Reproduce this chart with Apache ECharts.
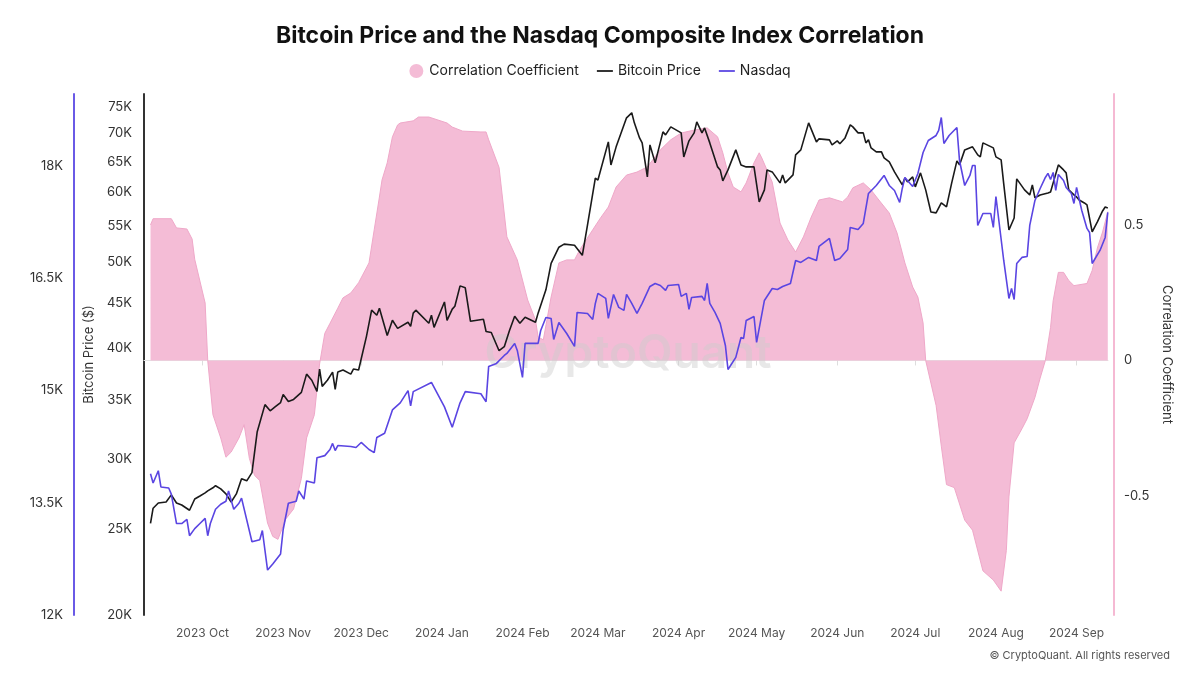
<!DOCTYPE html>
<html>
<head>
<meta charset="utf-8">
<script src="https://cdn.jsdelivr.net/npm/echarts@6/dist/echarts.min.js"></script>
<style>
html,body{margin:0;padding:0;background:#fff;}
#chart{width:1200px;height:675px;}
</style>
</head>
<body>
<div id="chart"></div>
<script>
// ---------------- data ----------------
const btcDates = ['2023-09-11','2023-09-12','2023-09-14','2023-09-17','2023-09-19','2023-09-21','2023-09-23','2023-09-26','2023-09-28','2023-09-30',
'2023-10-02','2023-10-03','2023-10-05','2023-10-06','2023-10-08','2023-10-10','2023-10-12','2023-10-14','2023-10-16','2023-10-18','2023-10-20','2023-10-22','2023-10-25','2023-10-27','2023-10-29','2023-10-31',
'2023-11-01','2023-11-03','2023-11-05','2023-11-08','2023-11-10','2023-11-12','2023-11-14','2023-11-15','2023-11-16','2023-11-18','2023-11-20','2023-11-21','2023-11-22','2023-11-24','2023-11-27','2023-11-28','2023-11-30',
'2023-12-03','2023-12-05','2023-12-07','2023-12-08','2023-12-11','2023-12-13','2023-12-15','2023-12-19','2023-12-20','2023-12-21','2023-12-22','2023-12-27','2023-12-28','2023-12-29',
'2024-01-02','2024-01-03','2024-01-05','2024-01-06','2024-01-08','2024-01-10','2024-01-12','2024-01-17','2024-01-18','2024-01-20','2024-01-23','2024-01-25','2024-01-27','2024-01-29','2024-01-31',
'2024-02-02','2024-02-06','2024-02-07','2024-02-10','2024-02-12','2024-02-15','2024-02-17','2024-02-21','2024-02-24','2024-02-26','2024-02-29',
'2024-03-01','2024-03-05','2024-03-06','2024-03-08','2024-03-12','2024-03-14','2024-03-15','2024-03-17','2024-03-18','2024-03-20','2024-03-21','2024-03-23','2024-03-26','2024-03-27','2024-03-29',
'2024-04-02','2024-04-03','2024-04-05','2024-04-07','2024-04-08','2024-04-10','2024-04-11','2024-04-13','2024-04-16','2024-04-17','2024-04-18','2024-04-20','2024-04-23','2024-04-25','2024-04-27','2024-04-30',
'2024-05-02','2024-05-04','2024-05-05','2024-05-07','2024-05-10','2024-05-11','2024-05-12','2024-05-15','2024-05-16','2024-05-18','2024-05-21','2024-05-24','2024-05-25','2024-05-29','2024-05-30',
'2024-06-01','2024-06-02','2024-06-04','2024-06-06','2024-06-07','2024-06-09','2024-06-11','2024-06-12','2024-06-13','2024-06-14','2024-06-16','2024-06-18','2024-06-19','2024-06-21','2024-06-23','2024-06-26','2024-06-27','2024-06-28','2024-06-30',
'2024-07-01','2024-07-03','2024-07-05','2024-07-07','2024-07-09','2024-07-11','2024-07-13','2024-07-15','2024-07-17','2024-07-18','2024-07-20','2024-07-23','2024-07-25','2024-07-26','2024-07-27','2024-07-31',
'2024-08-01','2024-08-03','2024-08-04','2024-08-06','2024-08-08','2024-08-09','2024-08-12','2024-08-14','2024-08-15','2024-08-16','2024-08-18','2024-08-21','2024-08-22','2024-08-23','2024-08-25','2024-08-27','2024-08-28','2024-08-29','2024-08-31',
'2024-09-01','2024-09-02','2024-09-04','2024-09-05','2024-09-07','2024-09-09','2024-09-11','2024-09-12','2024-09-13'];
const btcPrice = [25380,26400,26760,26830,27330,26760,26620,26260,27040,27250,
27470,27620,27840,27990,27760,27400,26830,27400,28500,28350,28960,32180,34560,34010,34380,34750,
35490,34840,35030,35680,37410,36820,35770,37910,36240,36820,37610,35960,37610,37810,37410,37910,37810,
41250,44180,43600,44410,41370,43030,42140,42810,42360,43840,44180,42700,43600,42250,
45130,43030,44300,44640,47060,46820,42920,43140,41800,41690,39760,40180,41910,43480,42700,
43370,42810,43840,46580,49890,52040,52450,52310,50950,55150,62280,
61960,68430,64450,67550,72840,73800,71900,69140,68250,62470,67900,64790,70230,69690,71150,
70050,65810,68610,70050,72090,70050,70960,68250,64120,63620,61830,63620,67020,64450,64120,64120,
58540,60400,63620,63290,61510,62800,61510,62800,66160,67020,71900,68430,68970,68790,67900,
68610,68080,69140,71520,71150,70050,70050,68250,68790,67370,66670,66670,65640,64960,63290,61190,62310,61670,62470,
60870,63130,60400,57030,56890,58380,57780,61510,65130,64450,67020,67550,66160,65810,68250,67370,
65810,65300,61350,54420,56150,62150,60400,59610,61190,59150,59610,59920,60080,61510,64450,63620,63130,60400,59610,
59300,58840,58380,58080,54140,55570,57180,57780,57630];

const nasdaqDates = ['2023-09-11','2023-09-12','2023-09-14','2023-09-15','2023-09-18','2023-09-19','2023-09-21','2023-09-23','2023-09-25','2023-09-26','2023-09-28','2023-09-30',
'2023-10-02','2023-10-03','2023-10-04','2023-10-06','2023-10-08','2023-10-10','2023-10-11','2023-10-13','2023-10-15','2023-10-16','2023-10-20','2023-10-23','2023-10-24','2023-10-26','2023-10-28','2023-10-31',
'2023-11-01','2023-11-03','2023-11-06','2023-11-07','2023-11-09','2023-11-10','2023-11-13','2023-11-14','2023-11-17','2023-11-19','2023-11-20','2023-11-21','2023-11-22','2023-11-27','2023-11-29',
'2023-12-01','2023-12-04','2023-12-06','2023-12-07','2023-12-10','2023-12-13','2023-12-16','2023-12-19','2023-12-20','2023-12-21','2023-12-28',
'2024-01-02','2024-01-05','2024-01-08','2024-01-10','2024-01-16','2024-01-18','2024-01-19','2024-01-22','2024-01-25','2024-01-26','2024-01-29','2024-01-30',
'2024-02-01','2024-02-02','2024-02-07','2024-02-08','2024-02-10','2024-02-12','2024-02-13','2024-02-15','2024-02-18','2024-02-21','2024-02-22','2024-02-26','2024-02-28','2024-02-29',
'2024-03-01','2024-03-04','2024-03-05','2024-03-07','2024-03-09','2024-03-11','2024-03-12','2024-03-14','2024-03-16','2024-03-18','2024-03-21','2024-03-23','2024-03-25','2024-03-27','2024-03-28',
'2024-04-01','2024-04-02','2024-04-04','2024-04-05','2024-04-06','2024-04-10','2024-04-11','2024-04-12','2024-04-13','2024-04-15','2024-04-17','2024-04-19','2024-04-20','2024-04-23','2024-04-25','2024-04-26','2024-04-27','2024-04-30',
'2024-05-01','2024-05-04','2024-05-07','2024-05-09','2024-05-11','2024-05-14','2024-05-16','2024-05-18','2024-05-21','2024-05-24','2024-05-25','2024-05-29','2024-05-31',
'2024-06-02','2024-06-05','2024-06-06','2024-06-09','2024-06-11','2024-06-13','2024-06-16','2024-06-19','2024-06-21','2024-06-23','2024-06-25','2024-06-26','2024-06-27','2024-06-30',
'2024-07-02','2024-07-04','2024-07-06','2024-07-09','2024-07-10','2024-07-11','2024-07-12','2024-07-14','2024-07-17','2024-07-18','2024-07-20','2024-07-22','2024-07-23','2024-07-24','2024-07-25','2024-07-27','2024-07-30','2024-07-31',
'2024-08-01','2024-08-04','2024-08-06','2024-08-07','2024-08-08','2024-08-09','2024-08-11','2024-08-13','2024-08-14','2024-08-16','2024-08-18','2024-08-20','2024-08-21','2024-08-22','2024-08-23','2024-08-24','2024-08-25','2024-08-27','2024-08-28','2024-08-30','2024-08-31',
'2024-09-01','2024-09-03','2024-09-05','2024-09-06','2024-09-07','2024-09-10','2024-09-12','2024-09-13'];
const nasdaqValue = [13886,13764,13927,13711,13696,13615,13222,13222,13277,13059,13154,13222,
13290,13059,13222,13412,13480,13520,13656,13412,13493,13561,12979,13006,13129,12600,12681,12816,
13142,13493,13520,13656,13548,13791,13764,14102,14129,14211,14292,14197,14264,14251,14237,
14305,14211,14169,14372,14428,14740,14834,14997,14793,14984,15107,
14780,14508,14834,14984,14956,14848,15321,15361,15467,15494,15628,15534,
15174,15628,15628,15801,15975,15962,15681,15908,15761,15588,16042,16028,15948,16162,
16296,16229,15962,16282,16109,16069,16282,16162,16028,16162,16389,16429,16402,16336,16402,
16416,16256,16296,16082,16242,16256,16202,16429,16162,16042,15895,15601,15280,15441,15708,15695,15935,15988,
15641,16202,16362,16349,16389,16429,16736,16710,16777,16736,16923,17030,16736,
16763,16883,17177,17150,17231,17631,17738,17872,17738,17671,17511,17698,17845,17725,
17899,18179,18339,18406,18473,18646,18299,18406,18513,18072,17738,17872,18005,18005,17204,17364,17364,17177,
17591,16736,16229,16362,16215,16696,16777,16790,17204,17538,17698,17845,17899,17818,17912,17671,17885,17805,17711,17631,17498,
17711,17404,17164,17110,16696,16870,17044,17378];

const corrDates = ['2023-09-11','2023-09-12','2023-09-19','2023-09-21','2023-09-25','2023-09-27','2023-09-28',
'2023-10-02','2023-10-03','2023-10-05','2023-10-08','2023-10-10','2023-10-12','2023-10-15','2023-10-17','2023-10-19','2023-10-21','2023-10-23','2023-10-26','2023-10-28','2023-10-30',
'2023-11-02','2023-11-05','2023-11-08','2023-11-10','2023-11-13','2023-11-15','2023-11-17','2023-11-19','2023-11-22','2023-11-24','2023-11-27','2023-11-30',
'2023-12-04','2023-12-06','2023-12-08','2023-12-09','2023-12-11','2023-12-13','2023-12-15','2023-12-16','2023-12-21','2023-12-23','2023-12-27',
'2024-01-03','2024-01-05','2024-01-09','2024-01-16','2024-01-18','2024-01-19','2024-01-23','2024-01-26','2024-01-30',
'2024-02-03','2024-02-06','2024-02-07','2024-02-09','2024-02-12','2024-02-15','2024-02-18','2024-02-21','2024-02-23','2024-02-28',
'2024-03-02','2024-03-05','2024-03-08','2024-03-12','2024-03-16','2024-03-20','2024-03-25','2024-03-29',
'2024-04-02','2024-04-07','2024-04-12','2024-04-16','2024-04-18','2024-04-20','2024-04-22','2024-04-25','2024-04-27','2024-04-30',
'2024-05-02','2024-05-03','2024-05-07','2024-05-10','2024-05-13','2024-05-16','2024-05-19','2024-05-22','2024-05-25','2024-05-29',
'2024-06-03','2024-06-05','2024-06-07','2024-06-11','2024-06-14','2024-06-17','2024-06-21','2024-06-24','2024-06-27','2024-06-30',
'2024-07-02','2024-07-04','2024-07-05','2024-07-09','2024-07-11','2024-07-13','2024-07-16','2024-07-20','2024-07-23','2024-07-27','2024-07-31',
'2024-08-03','2024-08-05','2024-08-06','2024-08-08','2024-08-11','2024-08-13','2024-08-16','2024-08-18','2024-08-20','2024-08-22','2024-08-23','2024-08-25','2024-08-27','2024-08-29','2024-08-31',
'2024-09-05','2024-09-07','2024-09-09','2024-09-11','2024-09-13'];
const corrValue = [0.500,0.523,0.523,0.489,0.485,0.448,0.373,
0.212,0.000,-0.200,-0.286,-0.357,-0.338,-0.286,-0.237,-0.361,-0.424,-0.443,-0.600,-0.649,-0.660,
-0.585,-0.548,-0.435,-0.286,-0.200,-0.013,0.100,0.137,0.193,0.231,0.249,0.287,
0.360,0.482,0.603,0.666,0.729,0.825,0.869,0.876,0.884,0.898,0.898,
0.876,0.861,0.846,0.843,0.843,0.814,0.712,0.456,0.371,
0.223,0.149,0.087,0.076,0.234,0.360,0.371,0.371,0.408,0.482,
0.526,0.566,0.640,0.684,0.695,0.714,0.777,0.814,
0.839,0.850,0.858,0.825,0.766,0.692,0.640,0.622,0.655,0.729,
0.766,0.747,0.658,0.507,0.445,0.400,0.456,0.529,0.592,0.600,
0.585,0.603,0.637,0.655,0.629,0.592,0.544,0.470,0.360,0.271,
0.234,0.138,0.000,-0.166,-0.316,-0.458,-0.469,-0.589,-0.626,-0.776,-0.810,
-0.851,-0.701,-0.503,-0.304,-0.252,-0.215,-0.136,-0.065,0.000,0.122,0.220,0.325,0.325,0.295,0.276,
0.284,0.332,0.415,0.474,0.549];

// tick labels
const monthTicks = ['2023-10-01','2023-11-01','2023-12-01','2024-01-01','2024-02-01','2024-03-01','2024-04-01','2024-05-01','2024-06-01','2024-07-01','2024-08-01','2024-09-01'];
const monthNames = ['Jan','Feb','Mar','Apr','May','Jun','Jul','Aug','Sep','Oct','Nov','Dec'];
const btcTicks = [20000,25000,30000,35000,40000,45000,50000,55000,60000,65000,70000,75000];
const nasdaqTicks = [12000,13500,15000,16500,18000];
const corrTicks = [-0.5,0,0.5];

// ---------------- helpers ----------------
function ts(s){ const p = s.split(' '); const d = p[0].split('-').map(Number); let h = 0; if (p[1]) h = Number(p[1].split(':')[0]); return new Date(d[0], d[1]-1, d[2], h).getTime(); }
function pairs(dates, vals){ return dates.map((d,i)=>[ts(d), vals[i]]); }
const FONT = "Inter, 'Noto Sans', 'Liberation Sans', sans-serif";
const kFmt = v => (Math.round(v/100)/10) + 'K';
const LINE_ICON = 'path://M0,0H18V2H0Z';

const chart = echarts.init(document.getElementById('chart'), null, {renderer:'canvas'});
const option = {
  animation: false,
  backgroundColor: '#ffffff',
  textStyle: { fontFamily: FONT },
  title: {
    text: 'Bitcoin Price and the Nasdaq Composite Index Correlation',
    left: 'center', top: 20,
    textStyle: { fontSize: 23, fontWeight: 'bold', color: '#111', fontFamily: FONT }
  },
  legend: {
    top: 59, left: 'center',
    itemWidth: 16, itemHeight: 14, itemGap: 18,
    symbolKeepAspect: true,
    textStyle: { fontSize: 14, color: '#222', fontFamily: FONT },
    data: [
      { name: 'Correlation Coefficient', icon: 'circle' },
      { name: 'Bitcoin Price', icon: LINE_ICON },
      { name: 'Nasdaq', icon: LINE_ICON }
    ]
  },
  grid: { left: 144, right: 92, top: 94, bottom: 60, containLabel: false, outerBoundsMode: 'none' },
  xAxis: {
    type: 'value',
    min: ts('2023-09-08 12:00'),
    max: ts('2024-09-13 02:00'),
    axisLine: { show: true, lineStyle: { color: '#e3e3e3', width: 1 } },
    axisTick: { show: true, customValues: monthTicks.map(ts), length: 5, lineStyle: { color: '#dddddd' } },
    axisLabel: {
      customValues: monthTicks.map(ts),
      formatter: v => { const d = new Date(v); return d.getFullYear() + ' ' + monthNames[d.getMonth()]; },
      color: '#555', fontSize: 12, margin: 12, fontFamily: FONT
    },
    splitLine: { show: false }
  },
  yAxis: [
    {
      type: 'log', logBase: 10, min: 20000, max: 77500, position: 'left',
      name: 'Bitcoin Price ($)', nameLocation: 'middle', nameGap: 40, nameRotate: 90,
      nameTextStyle: { color: '#333', fontSize: 13, fontFamily: FONT },
      axisLine: { show: true, lineStyle: { color: '#333', width: 2 } },
      axisTick: { show: false }, minorTick: { show: false },
      splitLine: { show: false }, minorSplitLine: { show: false },
      axisLabel: { customValues: btcTicks, formatter: kFmt, color: '#333', fontSize: 13, margin: 12, fontFamily: FONT }
    },
    {
      type: 'value', min: 12000, max: 18960, position: 'left', offset: 70,
      axisLine: { show: true, lineStyle: { color: '#6a5ae6', width: 2 } },
      axisTick: { show: false }, splitLine: { show: false },
      axisLabel: { customValues: nasdaqTicks, formatter: kFmt, color: '#333', fontSize: 13, margin: 11, fontFamily: FONT }
    },
    {
      type: 'value', min: -0.939, max: 0.983, position: 'right', offset: 6,
      name: 'Correlation Coefficient', nameLocation: 'middle', nameGap: 42, nameRotate: -90,
      nameTextStyle: { color: '#333', fontSize: 13, fontFamily: FONT },
      axisLine: { show: true, onZero: false, lineStyle: { color: '#f5b9d3', width: 2 } },
      axisTick: { show: false }, splitLine: { show: false },
      axisLabel: { customValues: corrTicks, formatter: v => String(v), color: '#333', fontSize: 13, margin: 10, fontFamily: FONT }
    }
  ],
  graphic: [
    { type: 'text', x: 628, y: 354, z: 5,
      style: { text: 'CryptoQuant', fontSize: 46, fontWeight: 600, fontFamily: FONT,
               fill: 'rgba(205,205,205,0.45)', align: 'center', verticalAlign: 'middle' } },
    { type: 'text', x: 1170, y: 656, z: 5,
      style: { text: '\u00A9 CryptoQuant. All rights reserved', fontSize: 11, fontFamily: FONT,
               fill: '#555', align: 'right', verticalAlign: 'middle' } }
  ],
  series: [
    {
      name: 'Correlation Coefficient', type: 'line', yAxisIndex: 2, z: 2,
      data: pairs(corrDates, corrValue),
      symbol: 'none', smooth: false,
      itemStyle: { color: '#f4bcd6' },
      lineStyle: { color: '#efa8c9', width: 1 },
      areaStyle: { color: '#f4bcd6', opacity: 1, origin: 0 }
    },
    {
      name: 'Bitcoin Price', type: 'line', yAxisIndex: 0, z: 10,
      data: pairs(btcDates, btcPrice),
      symbol: 'none',
      itemStyle: { color: '#1a1a1a' },
      lineStyle: { color: '#1a1a1a', width: 1.6 }
    },
    {
      name: 'Nasdaq', type: 'line', yAxisIndex: 1, z: 11,
      data: pairs(nasdaqDates, nasdaqValue),
      symbol: 'none',
      itemStyle: { color: '#5a45e2' },
      lineStyle: { color: '#5a45e2', width: 1.6 }
    }
  ]
};
chart.setOption(option);
</script>
</body>
</html>
